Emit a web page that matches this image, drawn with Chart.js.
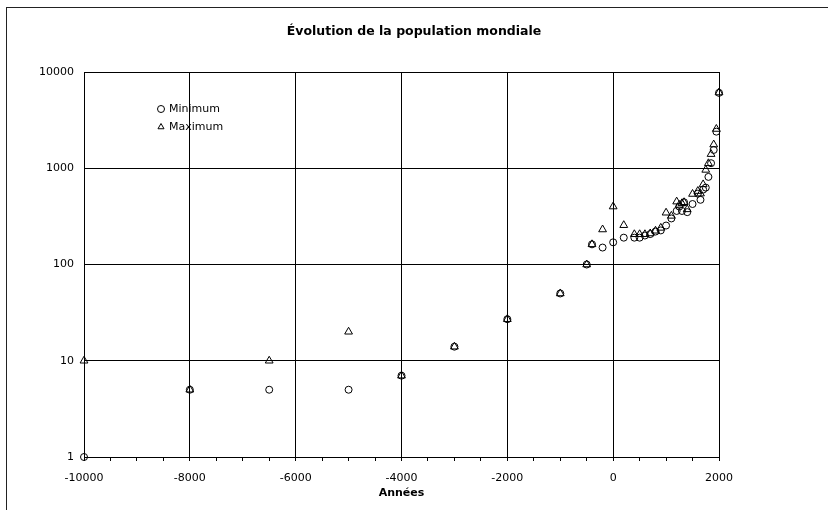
<!DOCTYPE html>
<html>
<head>
<meta charset="utf-8">
<script src="https://cdn.jsdelivr.net/npm/chart.js@4"></script>
<style>
  body { margin:0; background:#fff; }
  #wrap { position:relative; width:828px; height:510px; }
  #frame { position:absolute; left:6px; top:7px; right:0; bottom:0; border-left:1.5px solid #222; border-top:1.5px solid #222; pointer-events:none; }
</style>
</head>
<body>
<div id="wrap">
  <canvas id="popChart" width="828" height="510"></canvas>
  <div id="frame"></div>
</div>
<script>
// années et estimations (millions d'habitants)
var years  = [-10000, -8000, -6500, -5000, -4000, -3000, -2000, -1000, -500, -400, -200, 0, 200, 400, 500, 600, 700, 800, 900, 1000, 1100, 1200, 1250, 1300, 1340, 1400, 1500, 1600, 1650, 1700, 1750, 1800, 1850, 1900, 1950, 2000];
var minPop = [1, 5, 5, 5, 7, 14, 27, 50, 100, 162, 150, 170, 190, 190, 190, 200, 207, 220, 226, 254, 301, 360, 400, 360, 443, 350, 425, 545, 470, 600, 629, 813, 1128, 1550, 2400, 6070];
var maxPop = [10, 5, 10, 20, 7, 14, 27, 50, 100, 162, 231, 400, 256, 206, 206, 206, 210, 224, 240, 345, 320, 450, 416, 432, 443, 374, 540, 579, 545, 679, 961, 1125, 1402, 1762, 2557, 6120];
var seriesLabels = ['Minimum', 'Maximum'];
var xTickLabels = [-10000, -8000, -6000, -4000, -2000, 0, 2000];
var yTickLabels = [1, 10, 100, 1000, 10000];

var FONT = 'DejaVu Sans';

function toPoints(vals){
    let pts = new Array();
    for(let i=0; i<years.length; i++) {
        pts.push({x:years[i], y:vals[i]});
    }
    return pts;
}

// légende dessinée dans la zone du graphique
var innerLegend = {
    id:'innerLegend',
    afterDraw:function(chart){
        let ctx = chart.ctx;
        let styles = ['circle', 'triangle'];
        ctx.save();
        ctx.font = '11px "' + FONT + '"';
        ctx.textBaseline = 'middle';
        for(let i=0; i<seriesLabels.length; i++) {
            let y = 109 + i*18;
            ctx.strokeStyle = '#000';
            ctx.fillStyle = 'rgba(0,0,0,0)';
            ctx.lineWidth = 1;
            Chart.helpers.drawPoint(ctx, {pointStyle:styles[i], radius:3.5, borderWidth:1}, 161, y);
            ctx.fillStyle = '#000';
            ctx.fillText(seriesLabels[i], 169, y + 0.5);
        }
        ctx.restore();
    }
};

var popChart = new Chart(document.getElementById('popChart'), {
    type:'scatter',
    plugins:[innerLegend],
    data:{
        datasets:[{
            label:seriesLabels[0],
            data:toPoints(minPop),
            pointStyle:'circle',
            pointRadius:3.5,
            pointBorderWidth:1,
            borderColor:'#000',
            backgroundColor:'rgba(0,0,0,0)',
            clip:false
        },{
            label:seriesLabels[1],
            data:toPoints(maxPop),
            pointStyle:'triangle',
            pointRadius:4.5,
            pointBorderWidth:1,
            borderColor:'#000',
            backgroundColor:'rgba(0,0,0,0)',
            clip:false
        }]
    },
    options:{
        responsive:false,
        animation:false,
        layout:{ padding:0 },
        plugins:{
            legend:{ display:false },
            tooltip:{ enabled:false },
            title:{
                display:true,
                text:'Évolution de la population mondiale',
                color:'#000',
                font:{ family:FONT, size:12.5, weight:'bold' },
                padding:{ top:24, bottom:33 }
            }
        },
        scales:{
            x:{
                type:'linear',
                min:-10000,
                max:2000,
                afterBuildTicks:function(s){
                    let t = new Array();
                    for(let v=-10000; v<=2000; v+=500) t.push({value:v});
                    s.ticks = t;
                },
                afterFit:function(s){ s.height = 53; },
                ticks:{
                    autoSkip:false,
                    maxRotation:0,
                    padding:11,
                    color:'#000',
                    font:{ family:FONT, size:11 },
                    callback:function(v){ return xTickLabels.indexOf(v) >= 0 ? String(v) : ''; }
                },
                grid:{
                    color:function(c){ return (c.tick && xTickLabels.indexOf(c.tick.value) >= 0) ? '#000' : 'rgba(0,0,0,0)'; },
                    tickColor:'#000',
                    tickLength:4,
                    lineWidth:1
                },
                border:{ color:'#000', width:1 },
                title:{
                    display:true,
                    text:'Années',
                    color:'#000',
                    font:{ family:FONT, size:11, weight:'bold' },
                    padding:{ top:0, bottom:10 }
                }
            },
            y:{
                type:'logarithmic',
                min:1,
                max:10000,
                afterBuildTicks:function(s){
                    s.ticks = yTickLabels.map(function(v){ return {value:v}; });
                },
                afterFit:function(s){ s.width = 84; },
                ticks:{
                    padding:10,
                    color:'#000',
                    font:{ family:FONT, size:11 },
                    callback:function(v){ return String(v); }
                },
                grid:{ color:'#000', lineWidth:1, drawTicks:false },
                border:{ color:'#000', width:1 }
            },
            // marge droite vide
            yRight:{
                type:'linear',
                position:'right',
                display:true,
                ticks:{ display:false },
                grid:{ display:false, drawTicks:false },
                border:{ display:false },
                afterFit:function(s){ s.width = 109; }
            }
        }
    }
});
</script>
</body>
</html>
